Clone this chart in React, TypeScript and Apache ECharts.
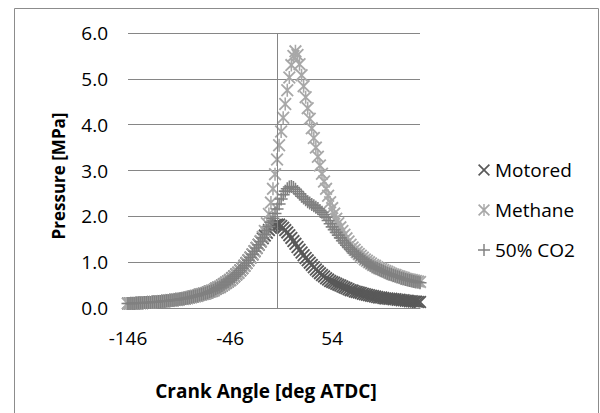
import React, { useEffect, useRef } from "react";
import * as echarts from "echarts";

const ANGLES = [
  -146, -144, -142, -140, -138, -136, -134, -132, -130, -128,
  -126, -124, -122, -120, -118, -116, -114, -112, -110, -108,
  -106, -104, -102, -100, -98, -96, -94, -92, -90, -88,
  -86, -84, -82, -80, -78, -76, -74, -72, -70, -68,
  -66, -64, -62, -60, -58, -56, -54, -52, -50, -48,
  -46, -44, -42, -40, -38, -36, -34, -32, -30, -28,
  -26, -24, -22, -20, -18,
  -16, -14, -12, -10, -8, -6, -4, -2, 0, 2, 4, 6, 8, 10,
  12, 14, 16, 18, 20, 22, 24, 26, 28, 30, 32, 34, 36, 38, 40, 42, 44, 46, 48, 50,
  52, 54, 56, 58, 60, 62, 64, 66, 68, 70, 72, 74, 76, 78, 80,
  82, 84, 86, 88, 90, 92, 94, 96, 98, 100,
  102, 104, 106, 108, 110, 112, 114, 116, 118, 120,
  122, 124, 126, 128, 130, 132, 134, 136, 138, 140,
];

// common compression stroke (-146 .. -18)
const COMPRESSION = [
  0.1, 0.1, 0.1, 0.1, 0.11, 0.11, 0.11, 0.11, 0.12, 0.12,
  0.12, 0.12, 0.13, 0.13, 0.13, 0.14, 0.14, 0.15, 0.15, 0.16,
  0.16, 0.17, 0.17, 0.18, 0.18, 0.19, 0.2, 0.2, 0.21, 0.22,
  0.23, 0.24, 0.25, 0.26, 0.27, 0.29, 0.3, 0.31, 0.32, 0.34,
  0.36, 0.37, 0.39, 0.42, 0.44, 0.46, 0.49, 0.52, 0.55, 0.58,
  0.61, 0.65, 0.69, 0.73, 0.77, 0.82, 0.87, 0.92, 0.98, 1.04,
  1.1, 1.17, 1.24, 1.31, 1.38,
];

// -16 .. 80
const MOTORED_MID = [
  1.45, 1.52, 1.58, 1.64, 1.7, 1.75, 1.79, 1.81, 1.82, 1.82, 1.79, 1.75, 1.7, 1.65,
  1.59, 1.53, 1.46, 1.4, 1.33, 1.27, 1.21, 1.15, 1.09, 1.04, 0.99, 0.94, 0.89, 0.84, 0.8, 0.76, 0.72, 0.69, 0.65, 0.62,
  0.59, 0.57, 0.55, 0.53, 0.51, 0.49, 0.47, 0.45, 0.43, 0.41, 0.39, 0.38, 0.36, 0.35, 0.34,
];
const METHANE_MID = [
  1.46, 1.55, 1.68, 1.85, 2.05, 2.3, 2.6, 2.92, 3.24, 3.55, 3.85, 4.15, 4.45, 4.75,
  5.03, 5.3, 5.5, 5.6, 5.52, 5.32, 5.08, 4.84, 4.6, 4.36, 4.13, 3.92, 3.71, 3.5, 3.3, 3.11, 2.93, 2.76, 2.6, 2.45,
  2.31, 2.18, 2.06, 1.95, 1.85, 1.76, 1.68, 1.6, 1.52, 1.45, 1.38, 1.32, 1.27, 1.22, 1.18,
];
const CO2_MID = [
  1.45, 1.53, 1.61, 1.69, 1.78, 1.87, 1.96, 2.06, 2.16, 2.27, 2.38, 2.47, 2.55, 2.6,
  2.64, 2.65, 2.63, 2.59, 2.54, 2.49, 2.44, 2.4, 2.36, 2.32, 2.29, 2.26, 2.23, 2.2, 2.17, 2.13, 2.09, 2.04, 1.98, 1.91,
  1.84, 1.77, 1.71, 1.65, 1.59, 1.53, 1.47, 1.42, 1.37, 1.32, 1.28, 1.24, 1.2, 1.16, 1.13,
];

// 82 .. 140
const MOTORED_TAIL = [
  0.33, 0.31, 0.3, 0.29, 0.28, 0.27, 0.26, 0.25, 0.24, 0.23,
  0.23, 0.22, 0.21, 0.21, 0.2, 0.2, 0.19, 0.19, 0.18, 0.18,
  0.17, 0.17, 0.16, 0.16, 0.15, 0.15, 0.14, 0.14, 0.13, 0.13,
];
const METHANE_TAIL = [
  1.14, 1.1, 1.06, 1.03, 1.0, 0.97, 0.94, 0.92, 0.89, 0.87,
  0.85, 0.83, 0.81, 0.79, 0.77, 0.75, 0.73, 0.72, 0.7, 0.69,
  0.67, 0.66, 0.64, 0.63, 0.62, 0.61, 0.6, 0.59, 0.58, 0.57,
];
const CO2_TAIL = [
  1.09, 1.06, 1.02, 0.99, 0.96, 0.93, 0.9, 0.88, 0.86, 0.84,
  0.82, 0.8, 0.78, 0.76, 0.74, 0.73, 0.71, 0.7, 0.68, 0.67,
  0.65, 0.64, 0.62, 0.61, 0.6, 0.59, 0.58, 0.57, 0.56, 0.55,
];

const MOTORED = [...COMPRESSION, ...MOTORED_MID, ...MOTORED_TAIL];
const METHANE = [...COMPRESSION, ...METHANE_MID, ...METHANE_TAIL];
const CO2 = [...COMPRESSION, ...CO2_MID, ...CO2_TAIL];

const SERIES_NAMES = ["Motored", "Methane", "50% CO2"];
const X_TICKS = { min: -146, max: 140, interval: 100 };
const Y_TICKS = { min: 0, max: 6, interval: 1 };

const SYM_X = "path://M0,1L1,0L5,4L9,0L10,1L6,5L10,9L9,10L5,6L1,10L0,9L4,5Z";
const SYM_STAR =
  "path://M0,1L1,0L5,4L9,0L10,1L6,5L10,9L9,10L5,6L1,10L0,9L4,5ZM4.4,0L5.6,0L5.6,10L4.4,10Z";
const SYM_PLUS =
  "path://M4.4,0L5.6,0L5.6,4.4L10,4.4L10,5.6L5.6,5.6L5.6,10L4.4,10L4.4,5.6L0,5.6L0,4.4L4.4,4.4Z";

const FONT = "'Open Sans', 'Noto Sans', sans-serif";
const GRID_COLOR = "#868686";
const MARK = 13;

export default function App() {
  const ref = useRef<HTMLDivElement>(null);
  useEffect(() => {
    if (!ref.current) return;
    const chart = echarts.init(ref.current, undefined, { renderer: "svg" });
    const mk = (vals: number[]) => ANGLES.map((a, i) => [a, vals[i]]);
    chart.setOption({
      animation: false,
      backgroundColor: "#fff",
      textStyle: { fontFamily: FONT },
      graphic: [
        {
          type: "rect",
          shape: { x: 14.5, y: 8.5, width: 584, height: 430 },
          style: { fill: "none", stroke: "#8c8c8c", lineWidth: 1 },
          silent: true,
        },
        {
          type: "text",
          silent: true,
          style: {
            text: "Crank Angle [deg ATDC]",
            x: 266,
            y: 391,
            align: "center",
            verticalAlign: "middle",
            fontFamily: FONT,
            fontSize: 19,
            fontWeight: "bold",
            fill: "#000",
          },
        },
        {
          type: "text",
          silent: true,
          x: 58,
          y: 176,
          rotation: Math.PI / 2,
          style: {
            text: "Pressure [MPa]",
            x: 0,
            y: 0,
            align: "center",
            verticalAlign: "middle",
            fontFamily: FONT,
            fontSize: 17,
            fontWeight: "bold",
            fill: "#000",
          },
        },
      ],
      grid: { left: 128, right: 180, top: 33, bottom: 105 },
      legend: {
        orient: "vertical",
        left: 473,
        top: 155,
        itemWidth: 12,
        itemHeight: 12,
        itemGap: 20,
        textStyle: { fontFamily: FONT, fontSize: 19, color: "#000", lineHeight: 20 },
        data: [
          { name: SERIES_NAMES[0], icon: SYM_X },
          { name: SERIES_NAMES[1], icon: SYM_STAR },
          { name: SERIES_NAMES[2], icon: SYM_PLUS },
        ],
      },
      xAxis: {
        type: "value",
        min: X_TICKS.min,
        max: X_TICKS.max,
        interval: X_TICKS.interval,
        axisLine: { show: true, onZero: false, lineStyle: { color: GRID_COLOR, width: 1 } },
        axisTick: { show: false },
        splitLine: { show: false },
        axisLabel: {
          fontFamily: FONT,
          fontSize: 19,
          color: "#000",
          margin: 20,
          showMaxLabel: false,
        },
      },
      yAxis: {
        type: "value",
        min: Y_TICKS.min,
        max: Y_TICKS.max,
        interval: Y_TICKS.interval,
        axisLine: { show: false },
        axisTick: { show: false },
        splitLine: { show: true, lineStyle: { color: GRID_COLOR, width: 1 } },
        axisLabel: {
          fontFamily: FONT,
          fontSize: 19,
          color: "#000",
          margin: 20,
          formatter: (v: number) => v.toFixed(1),
        },
      },
      series: [
        {
          type: "scatter",
          data: [],
          z: 1,
          silent: true,
          markLine: {
            silent: true,
            symbol: ["none", "none"],
            label: { show: false },
            lineStyle: { color: GRID_COLOR, width: 1, type: "solid" },
            data: [{ xAxis: 0 }],
          },
        },
        {
          name: SERIES_NAMES[0],
          type: "scatter",
          z: 2,
          symbol: SYM_X,
          symbolSize: MARK,
          itemStyle: { color: "#595959", opacity: 1 },
          data: mk(MOTORED),
        },
        {
          name: SERIES_NAMES[1],
          type: "scatter",
          z: 2,
          symbol: SYM_STAR,
          symbolSize: MARK,
          itemStyle: { color: "#a8a8a8", opacity: 1 },
          data: mk(METHANE),
        },
        {
          name: SERIES_NAMES[2],
          type: "scatter",
          z: 2,
          symbol: SYM_PLUS,
          symbolSize: MARK,
          itemStyle: { color: "#808080", opacity: 1 },
          data: mk(CO2),
        },
      ],
    });
    return () => chart.dispose();
  }, []);
  return (
    <div
      ref={ref}
      style={{ position: "fixed", left: 0, top: 0, width: 600, height: 413, background: "#fff" }}
    />
  );
}
